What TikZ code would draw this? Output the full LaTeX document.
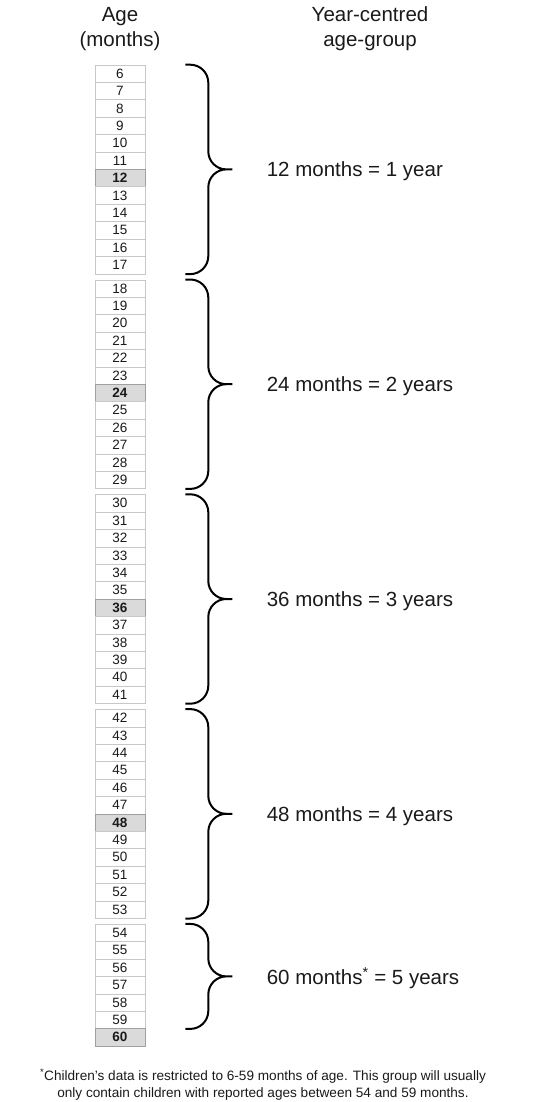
\documentclass[tikz,border=0pt]{standalone}
\usepackage{fontspec}
\setmainfont{Liberation Sans}
\usepackage{xcolor}
\usetikzlibrary{positioning,calc}
\definecolor{inkgray}{HTML}{1A1A1A}
\definecolor{cellline}{HTML}{C8C8C8}
\definecolor{keyfill}{HTML}{DADADA}

\begin{document}
\begin{tikzpicture}[
    x=1pt,y=-1pt,
    every node/.style={text=inkgray},
    agecell/.style={rectangle,draw=cellline,line width=0.6pt,fill=white,
                    minimum width=50pt,minimum height=17.4pt,inner sep=0pt,
                    font=\fontsize{13.5}{15}\selectfont},
    keycell/.style={fill=keyfill,draw=cellline!80!black,
                    font=\fontsize{13.5}{15}\selectfont\bfseries},
    header/.style={align=center,font=\fontsize{20.5}{25}\selectfont},
    grouplabel/.style={anchor=west,font=\fontsize{20.5}{24}\selectfont},
    groupbrace/.style={draw=black,line width=2pt,rounded corners=18pt}
]
\useasboundingbox (0,0) rectangle (540,1102);

% column headers
\node[header] (agehead)  at (120,29) {Age\\(months)};
\node[header] (grouphead) at (370,29) {Year-centred\\age-group};

% age cells, one block of rows per group
\foreach \g/\n in {0/11,1/11,2/11,3/11,4/6}{
  \foreach \r in {0,...,\n}{
    \pgfmathtruncatemacro\age{6+12*\g+\r}
    \pgfmathsetmacro\yy{65+214.8*\g+17.4*\r+8.7}
    \ifnum\r=6
      \node[agecell,keycell] (a\age) at (120,\yy) {\age};
    \else
      \node[agecell] (a\age) at (120,\yy) {\age};
    \fi
  }
}

% braces and group labels
\foreach \g/\first/\last in {0/6/17,1/18/29,2/30/41,3/42/53,4/54/59}{
  \coordinate (top\g) at ([xshift=40pt]a\first.north east);
  \coordinate (bot\g) at ([xshift=40pt]a\last.south east);
  \coordinate (mid\g) at ($(top\g)!0.5!(bot\g)$);
  \coordinate (tip\g) at ([xshift=47pt]mid\g);
  \draw[groupbrace] (top\g) -| ([xshift=23pt]mid\g) -- (tip\g)
                    (bot\g) -| ([xshift=23pt]mid\g) -- (tip\g);
}
\node[grouplabel] (lab0) at ([xshift=31pt,yshift=-2pt]tip0) {12 months = 1 year};
\node[grouplabel] (lab1) at ([xshift=31pt,yshift=-2pt]tip1) {24 months = 2 years};
\node[grouplabel] (lab2) at ([xshift=31pt,yshift=-2pt]tip2) {36 months = 3 years};
\node[grouplabel] (lab3) at ([xshift=31pt,yshift=-2pt]tip3) {48 months = 4 years};
\node[grouplabel] (lab4) at ([xshift=31pt,yshift=-2pt]tip4) {60 months\textsuperscript{*} = 5 years};

% footnote
\node[align=center,font=\fontsize{13.6}{17}\selectfont] (note) at (263,1085)
  {\textsuperscript{*}Children's data is restricted to 6-59 months of age. This group will usually\\
   only contain children with reported ages between 54 and 59 months.};
\end{tikzpicture}
\end{document}
